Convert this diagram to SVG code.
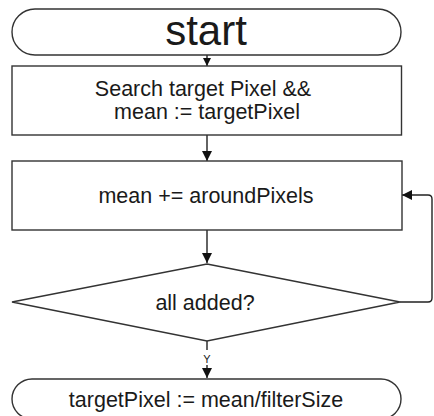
<svg xmlns="http://www.w3.org/2000/svg" width="434" height="416" viewBox="0 0 434 416">
<style>
.shape{fill:#fff;stroke:#333;stroke-width:1.4}
.line{fill:none;stroke:#222;stroke-width:1.4}
text{font-family:"Liberation Sans",Arial,sans-serif;fill:#1a1a1a;text-anchor:middle}
.t{font-size:21.5px}
</style>
<defs>
<marker id="ah" viewBox="0 0 10 10" refX="10" refY="5" markerWidth="10" markerHeight="10" markerUnits="userSpaceOnUse" orient="auto">
<path d="M0,0 L10,5 L0,10 z" fill="#111"/>
</marker>
<marker id="ahs" viewBox="0 0 10 10" refX="10" refY="5" markerWidth="8" markerHeight="8" markerUnits="userSpaceOnUse" orient="auto">
<path d="M0,0 L10,5 L0,10 z" fill="#111"/>
</marker>
</defs>
<rect width="434" height="416" fill="#fff"/>
<g id="connectors">
<line class="line" x1="207" y1="55" x2="207" y2="66" marker-end="url(#ahs)"/>
<line class="line" x1="207" y1="135" x2="207" y2="161" marker-end="url(#ah)"/>
<line class="line" x1="207" y1="230" x2="207" y2="263" marker-end="url(#ah)"/>
<path class="line" d="M400,302 L428,302 Q432,302 432,298 L432,199 Q432,195 428,195 L402,195" marker-end="url(#ah)"/>
<line class="line" x1="207" y1="341" x2="207" y2="350"/>
<line class="line" x1="207" y1="365" x2="207" y2="378" marker-end="url(#ah)"/>
<text x="207" y="363" style="font-size:11px">Y</text>
</g>
<g id="start">
<rect class="shape" x="12" y="9" width="389" height="46" rx="23" ry="23"/>
<text x="206" y="45" style="font-size:42px">start</text>
</g>
<g id="search">
<rect class="shape" x="12" y="66" width="389.5" height="69"/>
<text class="t" x="203" y="96">Search target Pixel &amp;&amp;</text>
<text class="t" x="207" y="118.5">mean := targetPixel</text>
</g>
<g id="accumulate">
<rect class="shape" x="12" y="161" width="390" height="69"/>
<text class="t" x="206" y="203">mean += aroundPixels</text>
</g>
<g id="decision">
<polygon class="shape" points="207,264 400,302 207,341 12,302"/>
<text class="t" x="205" y="310">all added?</text>
</g>
<g id="end">
<rect class="shape" x="12" y="379" width="389" height="40" rx="20" ry="20"/>
<text class="t" x="206" y="406.5">targetPixel := mean/filterSize</text>
</g>
</svg>
